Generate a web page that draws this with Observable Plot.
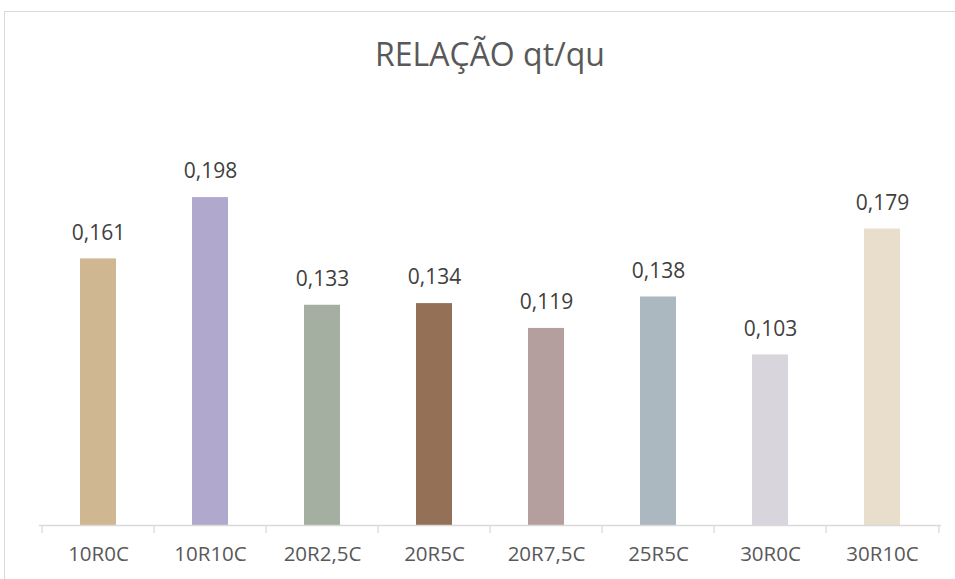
<!DOCTYPE html>
<html><head><meta charset="utf-8">
<script src="https://cdn.jsdelivr.net/npm/d3@7"></script>
<script src="https://cdn.jsdelivr.net/npm/@observablehq/plot@0.6"></script>
<style>
body{margin:0;background:#fff;font-family:"Open Sans",sans-serif;}
#wrap{position:relative;width:955px;height:579px;overflow:hidden;}
#frame{position:absolute;left:4px;top:11px;width:960px;height:600px;border:1px solid #d9d9d9;box-sizing:border-box;}
#title{position:absolute;left:0;width:980px;top:35px;text-align:center;font-size:32px;font-weight:400;color:#595959;font-family:"Open Sans",sans-serif;line-height:1.2;}
#chart{position:absolute;left:0;top:0;}
</style></head>
<body><div id="wrap"><div id="frame"></div><div id="title">RELAÇÃO qt/qu</div><div id="chart"></div></div>
<script>
const categories = ["10R0C","10R10C","20R2,5C","20R5C","20R7,5C","25R5C","30R0C","30R10C"];
const values = [0.161,0.198,0.133,0.134,0.119,0.138,0.103,0.179];
const colors = ["#CFB791","#B0A9CD","#A4AFA1","#947156","#B49E9E","#ACB8C0","#D8D5DD","#E9DDCB"];
const data = categories.map((c,i)=>({cat:c, v:values[i], col:colors[i]}));
const fmt = d => d.toFixed(3).replace(".", ",");
const W = 955, H = 579, mL = 39, mR = 14, mT = 111, mB = 54;
const step = (W - mL - mR) / categories.length;
const yMax = 0.25;
const tickLen = 8 * yMax / (H - mT - mB);
const chart = Plot.plot({
  width: W, height: H,
  marginLeft: mL, marginRight: mR, marginTop: mT, marginBottom: mB,
  style: {background: "transparent", fontFamily: "Open Sans, sans-serif", overflow: "visible"},
  x: {domain: categories, paddingInner: 0.68, paddingOuter: 0.34, align: 0.5, label: null, axis: null},
  y: {domain: [0, yMax], axis: null},
  marks: [
    Plot.barY(data, {x: "cat", y: "v", fill: "col"}),
    Plot.ruleY([0], {stroke: "#d9d9d9", strokeWidth: 1.3}),
    Plot.ruleX(categories, {x: d => d, dx: -step/2, y1: 0, y2: -tickLen, stroke: "#d9d9d9", strokeWidth: 1.3, clip: false}),
    Plot.ruleX([categories[categories.length-1]], {x: d => d, dx: step/2, y1: 0, y2: -tickLen, stroke: "#d9d9d9", strokeWidth: 1.3, clip: false}),
    Plot.axisX({tickSize: 0, tickPadding: 21, fontSize: 20.5, fill: "#595959", label: null}),
    Plot.text(data, {x: "cat", y: "v", text: d => fmt(d.v), dy: -26, fontSize: 21, fill: "#404040"})
  ]
});
document.getElementById("chart").appendChild(chart);
</script></body></html>
